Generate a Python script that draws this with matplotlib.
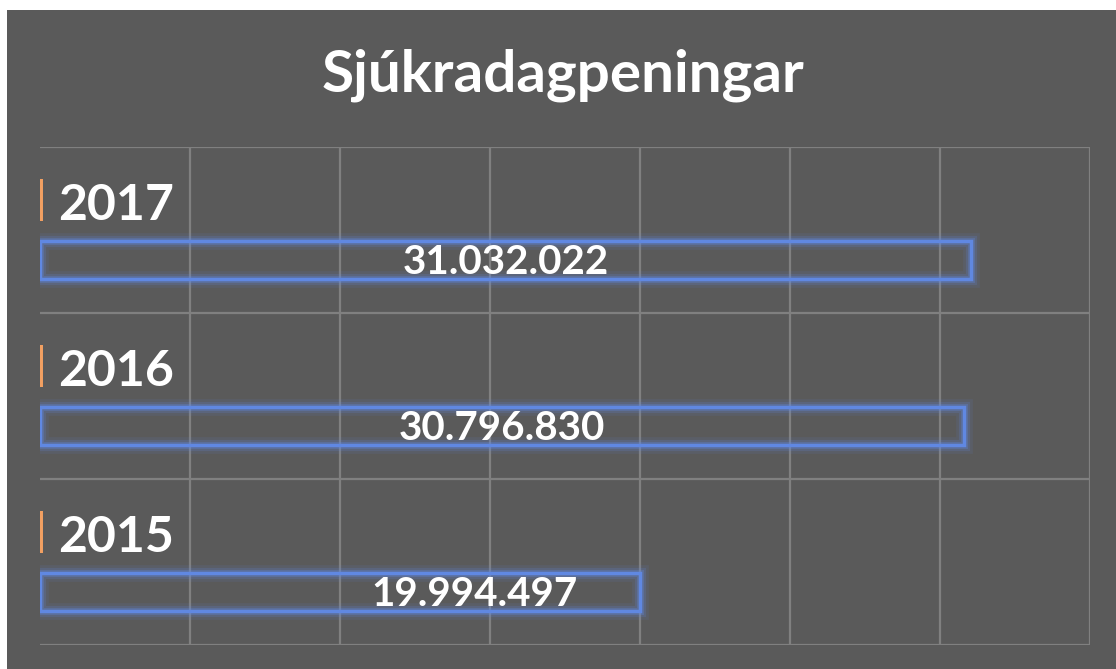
import matplotlib.pyplot as plt
from matplotlib.patches import Rectangle

years = ["2015", "2016", "2017"]
year_values = [2015, 2016, 2017]
amounts = [19994497, 30796830, 31032022]
amount_labels = ["19.994.497", "30.796.830", "31.032.022"]

BG = "#5a5a5a"
BLUE = "#6088e2"
ORANGE = "#f2a062"
GRID = "#808080"

plt.rcParams['font.family'] = ['Lato', 'DejaVu Sans']

fig = plt.figure(figsize=(11.16, 6.69), dpi=100, facecolor="white")
fig.patches.append(Rectangle((7 / 1116, 0), 1, 1 - 10 / 669, transform=fig.transFigure,
                             facecolor=BG, edgecolor="none", zorder=-5))

ax = fig.add_axes([40 / 1116, 24 / 669, 1050 / 1116, 498 / 669])
ax.set_facecolor("none")
ax.set_zorder(2)

pos = list(range(len(years)))
h_blue = 0.23
h_orange = 0.25
off = 0.18

# gitter
for x in range(5000000, 35000001, 5000000):
    ax.axvline(x, color=GRID, lw=1.6, zorder=1)
for y in [-0.5, 0.5, 1.5, 2.5]:
    ax.axhline(y, color=GRID, lw=1.6, zorder=1)

# blá súlur með glóa
yb = [p - off for p in pos]
for lw, a in [(12, 0.10), (8, 0.18), (5, 0.3)]:
    ax.barh(yb, amounts, height=h_blue, facecolor="none", edgecolor=BLUE,
            linewidth=lw, alpha=a, zorder=2)
ax.barh(yb, amounts, height=h_blue, facecolor="none", edgecolor=BLUE,
        linewidth=2.5, zorder=3)

# appelsínugular (ártal sem gildi)
yo = [p + off for p in pos]
ax.barh(yo, year_values, height=h_orange, color=ORANGE, edgecolor=ORANGE,
        linewidth=4.3, zorder=3)

for p, yr, val, lab in zip(pos, years, amounts, amount_labels):
    ax.annotate(yr, (0, p + off), xytext=(13, -4), textcoords="offset points",
                ha="left", va="center", color="white", fontsize=36,
                fontweight="bold", zorder=4)
    dx = 135 if val < 25000000 else 0
    ax.annotate(lab, (val / 2, p - off), xytext=(dx * 0.72, -2), textcoords="offset points",
                ha="center", va="center", color="white", fontsize=29,
                fontweight="bold", zorder=4)

ax.set_xlim(0, 35000000)
ax.set_ylim(-0.5, 2.5)
for s in ax.spines.values():
    s.set_visible(False)
ax.set_xticks([])
ax.set_yticks([])

fig.text(563 / 1116, 1 - 75 / 669, "Sjúkradagpeningar", ha="center", va="center",
         color="white", fontsize=42, fontweight="bold")

fig.savefig("out.png", dpi=100, facecolor=fig.get_facecolor())
